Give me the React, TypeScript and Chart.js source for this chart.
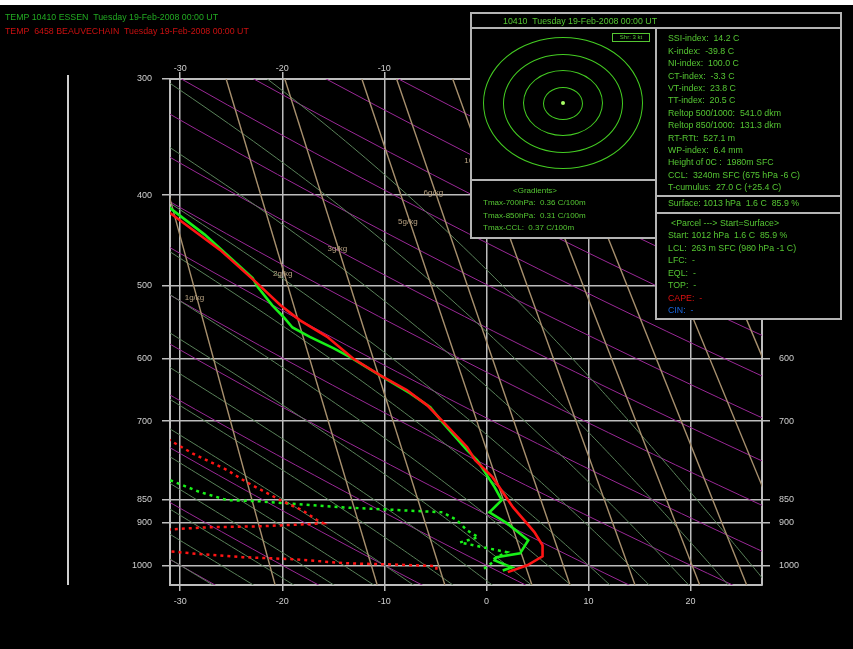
import React, { useEffect, useRef } from "react";
import { Chart, registerables } from "chart.js";

Chart.register(...registerables);

// ---------- axes ----------
const pressureTicks = [300, 400, 500, 600, 700, 850, 900, 1000];
const tempTicks = [-30, -20, -10, 0, 10, 20];

// ---------- soundings ----------
// TEMP 10410 ESSEN - temperature
const essenTempP = [405, 413, 441, 491, 502, 525, 542, 555, 568, 584, 597, 628, 653, 676, 702, 752, 771, 824, 851, 877, 901, 940, 971, 980, 988, 1005, 1013];
const essenTempT = [-31.8, -31.0, -27.6, -22.9, -22.4, -21.0, -19.8, -19.0, -17.3, -15.0, -13.4, -10.1, -7.5, -5.5, -4.3, -1.9, -0.9, 0.8, 1.5, 0.3, 2.0, 4.1, 3.3, 1.0, 0.8, 2.5, 1.6];
// ESSEN - dew point
const essenDewP = [802, 810, 834, 851, 853, 866, 877, 894, 917, 933, 945, 968, 983, 993, 1012];
const essenDewT = [-33.0, -31.0, -28.1, -25.4, -22.5, -14.4, -4.3, -2.9, -1.9, -0.8, -2.6, 2.0, 0.8, 0.6, -0.4];
// TEMP 6458 BEAUVECHAIN - temperature
const beauTempP = [410, 418, 458, 497, 525, 545, 568, 599, 625, 648, 673, 698, 746, 771, 804, 866, 921, 952, 978, 1000, 1017];
const beauTempT = [-32.0, -31.0, -26.1, -22.5, -20.2, -18.3, -15.6, -13.1, -10.4, -7.8, -5.8, -4.4, -1.9, -1.1, 0.6, 2.6, 4.7, 5.5, 5.5, 4.0, 2.1];
// BEAUVECHAIN - dew point
const beauDewP = [714, 734, 758, 790, 814, 851, 873, 894, 901, 903, 908, 910, 915, 917, 963, 966, 971, 980, 985, 995, 998, 1002, 1017];
const beauDewT = [-33.0, -31.0, -28.8, -25.4, -23.5, -20.2, -18.0, -16.6, -16.0, -17.3, -22.2, -27.1, -31.0, -33.0, -33.0, -31.0, -28.8, -23.9, -19.0, -13.7, -9.2, -4.9, -4.9];

// ---------- diagram background families ----------
const dryAdiabatTheta = [-40, -30, -20, -10, 0, 10, 20, 30, 40, 50, 60, 70, 80, 90, 100, 110, 120, 130, 140, 150];
const moistAdiabatThetaW = [-30, -26, -22, -18, -14, -10, -6, -2, 2, 6, 10, 14, 18, 22, 26];
// mixing-ratio lines: temperature at 300 hPa and at 1050 hPa
const mixTopT = [-34.2, -25.5, -19.75, -12.2, -8.8, -3.3, 1.6, 5.7, 10.6, 15.6];
const mixBottomT = [-20.7, -10.7, -4.07, 4.46, 8.19, 14.56, 20.9, 25.5, 31.0, 36.4];
const mixLabels = ["1g/kg", "2g/kg", "3g/kg", "5g/kg", "6g/kg", "10g/kg"];
const mixLabelT = [-28.6, -19.95, -14.6, -7.7, -5.2, -1.0];
const mixLabelP = [516, 486, 457, 427, 398, 367];

// ---------- info panel texts ----------
const legendLines = [
  { text: "TEMP 10410 ESSEN  Tuesday 19-Feb-2008 00:00 UT", color: "#22aa22" },
  { text: "TEMP  6458 BEAUVECHAIN  Tuesday 19-Feb-2008 00:00 UT", color: "#cc1010" },
];
const indexLines = [
  "SSI-index:  14.2 C",
  "K-index:  -39.8 C",
  "NI-index:  100.0 C",
  "CT-index:  -3.3 C",
  "VT-index:  23.8 C",
  "TT-index:  20.5 C",
  "Reltop 500/1000:  541.0 dkm",
  "Reltop 850/1000:  131.3 dkm",
  "RT-RTt:  527.1 m",
  "WP-index:  6.4 mm",
  "Height of 0C :  1980m SFC",
  "CCL:  3240m SFC (675 hPa -6 C)",
  "T-cumulus:  27.0 C (+25.4 C)",
];
const gradientLines = ["Tmax-700hPa:  0.36 C/100m", "Tmax-850hPa:  0.31 C/100m", "Tmax-CCL:  0.37 C/100m"];
const parcelLines = [
  { text: "Start: 1012 hPa  1.6 C  85.9 %", color: "#55c633" },
  { text: "LCL:  263 m SFC (980 hPa -1 C)", color: "#55c633" },
  { text: "LFC:  -", color: "#55c633" },
  { text: "EQL:  -", color: "#55c633" },
  { text: "TOP:  -", color: "#55c633" },
  { text: "CAPE:  -", color: "#dd1111" },
  { text: "CIN:  -", color: "#1a66dd" },
];
const hodoRingsX = [20, 40, 60, 80];
const hodoRingsY = [16.5, 33, 49.5, 66];

const FONT = '"Liberation Sans", Arial, sans-serif';
const GRID = "#bdbdbd";
const PANEL_TEXT = "#55c633";

function zip(t: number[], p: number[]) {
  return t.map((v, i) => ({ x: v, y: p[i] }));
}

function dryAdiabat(thetaC: number) {
  const pts: { x: number; y: number }[] = [];
  for (let p = 1060; p >= 280; p -= 20) {
    pts.push({ x: (thetaC + 273.15) * Math.pow(p / 1000, 0.2857) - 273.15, y: p });
  }
  return pts;
}

function esat(tc: number) {
  return 6.112 * Math.exp((17.67 * tc) / (tc + 243.5));
}
function dTdp(p: number, tk: number) {
  const es = esat(tk - 273.15);
  const rs = (0.622 * es) / (p - es);
  const Lv = 2.501e6, Rd = 287.04, cp = 1005.7;
  return (Rd * tk + Lv * rs) / (p * (cp + (Lv * Lv * rs * 0.622) / (Rd * tk * tk)));
}
function moistAdiabat(thetaW: number) {
  const h = 5;
  const down: { x: number; y: number }[] = [];
  let T = thetaW + 273.15;
  for (let p = 1000; p < 1060; p += h) {
    const k1 = dTdp(p, T);
    const k2 = dTdp(p + h / 2, T + (k1 * h) / 2);
    T += k2 * h;
    down.push({ x: T - 273.15, y: p + h });
  }
  const up: { x: number; y: number }[] = [{ x: thetaW, y: 1000 }];
  T = thetaW + 273.15;
  for (let p = 1000; p > 280; p -= h) {
    const k1 = dTdp(p, T);
    const k2 = dTdp(p - h / 2, T - (k1 * h) / 2);
    T -= k2 * h;
    up.push({ x: T - 273.15, y: p - h });
  }
  return down.reverse().concat(up);
}

const Txt = ({ x, y, text, color, size = 8.8 }: { x: number; y: number; text: string; color: string; size?: number }) => (
  <div
    style={{
      position: "absolute",
      left: x,
      top: y - 5,
      font: `${size}px ${FONT}`,
      lineHeight: "10px",
      color,
      whiteSpace: "pre",
    }}
  >
    {text}
  </div>
);

const Panel = ({ l, t, w, h }: { l: number; t: number; w: number; h: number }) => (
  <div
    style={{
      position: "absolute",
      left: l,
      top: t,
      width: w,
      height: h,
      boxSizing: "border-box",
      border: "2px solid #b4b4b4",
      background: "#000",
    }}
  />
);

export default function App() {
  const ref = useRef<HTMLCanvasElement>(null);

  useEffect(() => {
    const canvas = ref.current;
    if (!canvas) return;
    const datasets: any[] = [];
    const base = { showLine: true, pointRadius: 0, clip: 0, xAxisID: "x", yAxisID: "y" };

    datasets.push({ ...base, label: "BEAU T", data: zip(beauTempT, beauTempP), borderColor: "#ff1414", borderWidth: 2.6, order: 0 });
    datasets.push({ ...base, label: "ESSEN T", data: zip(essenTempT, essenTempP), borderColor: "#18f018", borderWidth: 2.6, order: 1 });
    datasets.push({ ...base, label: "BEAU Td", data: zip(beauDewT, beauDewP), borderColor: "#ff1414", borderWidth: 2.5, borderDash: [3, 4], order: 2 });
    datasets.push({ ...base, label: "ESSEN Td", data: zip(essenDewT, essenDewP), borderColor: "#18f018", borderWidth: 2.5, borderDash: [3, 4], order: 3 });

    mixTopT.forEach((t, i) => {
      datasets.push({ ...base, label: "w" + i, data: [{ x: t, y: 300 }, { x: mixBottomT[i], y: 1050 }], borderColor: "#a8906e", borderWidth: 1.4, order: 10 });
    });
    moistAdiabatThetaW.forEach((tw) => {
      datasets.push({ ...base, label: "m" + tw, data: moistAdiabat(tw), borderColor: "#5a825a", borderWidth: 1, order: 11 });
    });
    dryAdiabatTheta.forEach((th) => {
      datasets.push({ ...base, label: "d" + th, data: dryAdiabat(th), borderColor: "#9a2896", borderWidth: 1, order: 12 });
    });

    const labelPlugin = {
      id: "mixLabels",
      afterDatasetsDraw(chart: any) {
        const c = chart.ctx;
        const xs = chart.scales.x;
        const ys = chart.scales.y;
        c.save();
        c.font = `8px ${FONT}`;
        c.fillStyle = "#b8a282";
        c.textAlign = "center";
        c.textBaseline = "middle";
        mixLabels.forEach((lab, i) => {
          c.fillText(lab, xs.getPixelForValue(mixLabelT[i]), ys.getPixelForValue(mixLabelP[i]));
        });
        c.restore();
      },
    };

    const tickFont = { family: FONT, size: 9 };
    const logCommon = {
      type: "logarithmic",
      min: 300,
      max: 1050,
      reverse: true,
      bounds: "data",
      afterBuildTicks: (s: any) => {
        s.ticks = pressureTicks.map((v) => ({ value: v }));
      },
    };
    const linCommon = {
      type: "linear",
      min: -31,
      max: 27,
      bounds: "data",
      afterBuildTicks: (s: any) => {
        s.ticks = tempTicks.map((v) => ({ value: v }));
      },
    };

    const chart = new Chart(canvas, {
      type: "scatter",
      data: { datasets },
      options: {
        animation: false,
        responsive: false,
        events: [],
        layout: { padding: 0 },
        plugins: { legend: { display: false }, tooltip: { enabled: false }, title: { display: false } },
        elements: { point: { radius: 0 }, line: { tension: 0 } },
        scales: {
          x: {
            ...linCommon,
            position: "bottom",
            afterFit: (s: any) => { s.height = 64; },
            grid: { color: GRID, lineWidth: 1.5, tickLength: 6, tickColor: GRID, drawTicks: true },
            border: { display: true, color: GRID, width: 2 },
            ticks: { color: "#cfcfcf", font: tickFont, padding: 5, autoSkip: false, maxRotation: 0, callback: (v: any) => String(v) },
          },
          x2: {
            ...linCommon,
            position: "top",
            afterFit: (s: any) => { s.height = 79; },
            grid: { drawOnChartArea: false, color: GRID, lineWidth: 1.5, tickLength: 7, tickColor: GRID },
            border: { display: true, color: GRID, width: 2 },
            ticks: { color: "#cfcfcf", font: tickFont, padding: -2, autoSkip: false, maxRotation: 0, callback: (v: any) => String(v) },
          },
          y: {
            ...logCommon,
            position: "left",
            afterFit: (s: any) => { s.width = 170; },
            grid: { color: GRID, lineWidth: 1.5, tickLength: 8, tickColor: GRID },
            border: { display: true, color: GRID, width: 2 },
            ticks: { color: "#cfcfcf", font: tickFont, padding: 10, autoSkip: false, callback: (v: any) => String(v) },
          },
          y2: {
            ...logCommon,
            position: "right",
            afterFit: (s: any) => { s.width = 91; },
            grid: { drawOnChartArea: false, color: GRID, lineWidth: 1.5, tickLength: 8, tickColor: GRID },
            border: { display: true, color: GRID, width: 2 },
            ticks: { color: "#cfcfcf", font: tickFont, padding: 9, autoSkip: false, callback: (v: any) => String(v) },
          },
        },
      } as any,
      plugins: [labelPlugin],
    });
    return () => chart.destroy();
  }, []);

  const hcx = 563, hcy = 103;

  return (
    <div style={{ position: "fixed", left: 0, top: 0, width: 853, height: 649, background: "#fff", overflow: "hidden" }}>
      <div style={{ position: "absolute", left: 0, top: 5, width: 853, height: 644, background: "#000" }} />
      <div style={{ position: "absolute", left: 67, top: 75, width: 2, height: 510, background: "#cfcfcf" }} />
      <canvas ref={ref} width={853} height={649} style={{ position: "absolute", left: 0, top: 0, width: 853, height: 649 }} />

      {legendLines.map((l, i) => (
        <Txt key={i} x={5} y={17 + i * 14} text={l.text} color={l.color} size={8.8} />
      ))}

      {/* info box */}
      <Panel l={470} t={12} w={372} h={17} />
      <Panel l={470} t={27} w={187} h={154} />
      <Panel l={470} t={179} w={187} h={60} />
      <Panel l={655} t={27} w={187} h={170} />
      <Panel l={655} t={195} w={187} h={19} />
      <Panel l={655} t={212} w={187} h={108} />

      <Txt x={503} y={21} text="10410  Tuesday 19-Feb-2008 00:00 UT" color={PANEL_TEXT} />

      {hodoRingsX.map((rx, i) => (
        <div
          key={i}
          style={{
            position: "absolute",
            left: hcx - rx,
            top: hcy - hodoRingsY[i],
            width: rx * 2,
            height: hodoRingsY[i] * 2,
            boxSizing: "border-box",
            border: "1.2px solid #44cc22",
            borderRadius: "50%",
          }}
        />
      ))}
      <div style={{ position: "absolute", left: hcx - 2, top: hcy - 2, width: 4, height: 4, borderRadius: "50%", background: "#aaff66" }} />
      <div
        style={{
          position: "absolute",
          left: 612,
          top: 33,
          width: 38,
          height: 9,
          boxSizing: "border-box",
          border: "1px solid #55c633",
          font: `6px ${FONT}`,
          lineHeight: "7px",
          color: PANEL_TEXT,
          textAlign: "center",
          whiteSpace: "pre",
        }}
      >
        Shr: 3 kt
      </div>

      <Txt x={513} y={191} text="<Gradients>" color={PANEL_TEXT} size={8} />
      {gradientLines.map((t, i) => (
        <Txt key={i} x={483} y={203 + i * 12.5} text={t} color={PANEL_TEXT} size={8} />
      ))}

      {indexLines.map((t, i) => (
        <Txt key={i} x={668} y={38.3 + i * 12.4} text={t} color={PANEL_TEXT} />
      ))}

      <Txt x={668} y={203} text="Surface: 1013 hPa  1.6 C  85.9 %" color={PANEL_TEXT} />
      <Txt x={671} y={223} text="<Parcel ---> Start=Surface>" color={PANEL_TEXT} />
      {parcelLines.map((l, i) => (
        <Txt key={i} x={668} y={235 + i * 12.5} text={l.text} color={l.color} />
      ))}
    </div>
  );
}
